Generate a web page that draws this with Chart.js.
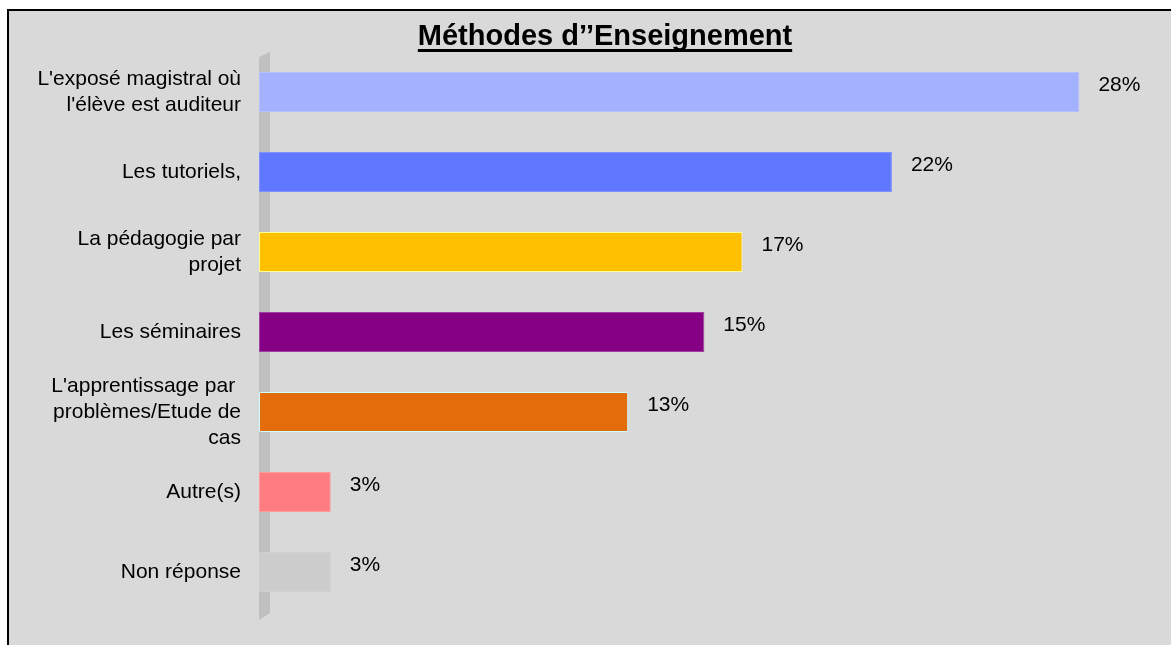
<!DOCTYPE html>
<html>
<head>
<meta charset="utf-8">
<script src="https://cdn.jsdelivr.net/npm/chart.js@4.4.0/dist/chart.umd.min.js"></script>
<style>
    html, body { margin: 0; padding: 0; background: #ffffff; overflow: hidden; }
    #frame {
        position: absolute; left: 7px; top: 9px; width: 1164px; height: 636px;
        border-left: 2px solid #000; border-top: 2px solid #000;
        background: #d9d9d9;
    }
    #wrap { position: absolute; left: 0; top: 0; width: 1162px; height: 634px; }
</style>
</head>
<body>
<div id="frame"><div id="wrap"><canvas id="chart"></canvas></div></div>
<script>
const chartTitle = "Méthodes d’’Enseignement";
const categories = [
    ["L'exposé magistral où", "l'élève est auditeur"],
    "Les tutoriels,",
    ["La pédagogie par", "projet"],
    "Les séminaires",
    ["L'apprentissage par ", "problèmes/Etude de", "cas"],
    "Autre(s)",
    "Non réponse"
];
const values = [28, 21.6, 16.5, 15.2, 12.6, 2.45, 2.45];
const valueLabels = ['28%', '22%', '17%', '15%', '13%', '3%', '3%'];
const barColors = ['#a3b1ff', '#6077ff', '#ffc000', '#860086', '#e46c0a', '#ff7c80', '#cccccc'];
const barBorders = ['#b4c0ff', '#8090ff', '#ffff99', '#a040a0', '#ccffff', '#ff9a9d', '#d0d0d0'];

const FONT = '"Liberation Sans", Arial, sans-serif';
const AXIS_X = 250; // zero line inside canvas

// grey 3d wall behind the category axis
const wallPlugin = {
    id: 'wall',
    beforeDatasetsDraw(chart) {
        const { ctx, chartArea } = chart;
        const x0 = chart.scales.x.getPixelForValue(0);
        ctx.save();
        ctx.fillStyle = '#c0c0c0';
        ctx.beginPath();
        ctx.moveTo(x0, chartArea.top + 5);
        ctx.lineTo(x0 + 11, chartArea.top);
        ctx.lineTo(x0 + 11, chartArea.bottom + 1);
        ctx.lineTo(x0, chartArea.bottom + 8);
        ctx.closePath();
        ctx.fill();
        ctx.restore();
    }
};

const labelPlugin = {
    id: 'valueLabels',
    afterDatasetsDraw(chart) {
        const { ctx } = chart;
        const meta = chart.getDatasetMeta(0);
        ctx.save();
        ctx.font = '21px ' + FONT;
        ctx.fillStyle = '#000';
        ctx.textBaseline = 'middle';
        ctx.textAlign = 'left';
        meta.data.forEach((bar, i) => {
            ctx.fillText(valueLabels[i], bar.x + 19, bar.y - 7);
        });
        ctx.restore();
    }
};

const titlePlugin = {
    id: 'underlinedTitle',
    afterDraw(chart) {
        const { ctx } = chart;
        ctx.save();
        ctx.font = 'bold 29px ' + FONT;
        ctx.fillStyle = '#000';
        ctx.textAlign = 'center';
        ctx.textBaseline = 'alphabetic';
        const cx = 596, base = 34;
        ctx.fillText(chartTitle, cx, base);
        const w = ctx.measureText(chartTitle).width;
        ctx.fillRect(cx - w / 2, base + 4, w, 3);
        ctx.restore();
    }
};

new Chart(document.getElementById('chart'), {
    type: 'bar',
    data: {
        labels: categories,
        datasets: [{
            data: values,
            backgroundColor: barColors,
            borderColor: barBorders,
            borderWidth: 1,
            borderSkipped: false,
            barPercentage: 0.5,
            categoryPercentage: 1
        }]
    },
    options: {
        indexAxis: 'y',
        responsive: true,
        maintainAspectRatio: false,
        animation: false,
        layout: { padding: { top: 41, bottom: 33, left: 0, right: 33 } },
        plugins: {
            legend: { display: false },
            title: { display: false },
            tooltip: { enabled: false }
        },
        scales: {
            x: {
                display: false,
                min: 0,
                max: 30
            },
            y: {
                grid: { display: false },
                border: { display: false },
                ticks: {
                    color: '#000',
                    padding: 10,
                    autoSkip: false,
                    font: { family: FONT, size: 21, lineHeight: 1.25 }
                },
                afterFit(scale) {
                    scale.width = AXIS_X;
                    scale.paddingTop = 0;
                    scale.paddingBottom = 0;
                }
            }
        }
    },
    plugins: [wallPlugin, labelPlugin, titlePlugin]
});
</script>
</body>
</html>
